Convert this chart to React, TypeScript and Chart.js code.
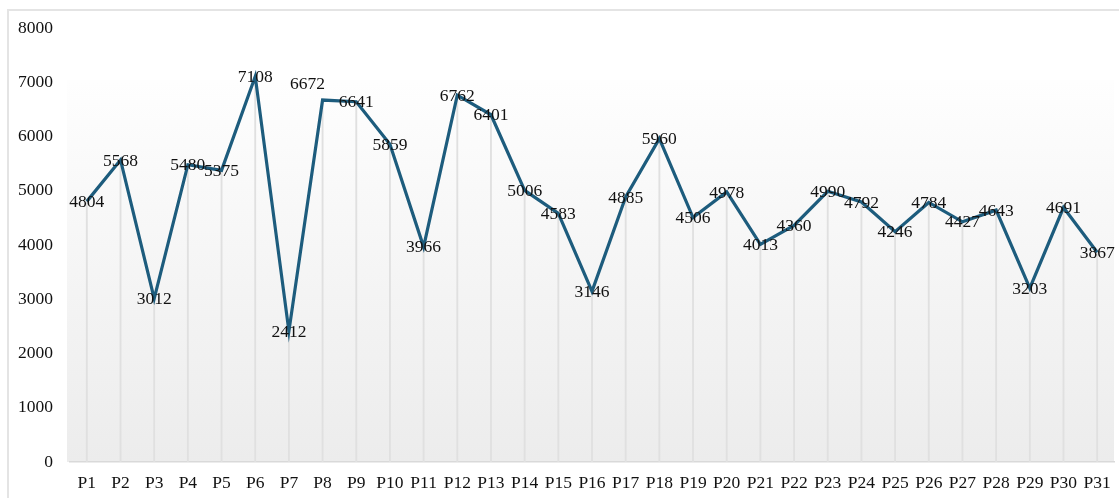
import React, { useEffect, useRef } from "react";
import { Chart, registerables } from "chart.js";

Chart.register(...registerables);

const categories = ["P1","P2","P3","P4","P5","P6","P7","P8","P9","P10","P11","P12","P13","P14","P15","P16","P17","P18","P19","P20","P21","P22","P23","P24","P25","P26","P27","P28","P29","P30","P31"];
const values = [4804,5568,3012,5480,5375,7108,2412,6672,6641,5859,3966,6762,6401,5006,4583,3146,4885,5960,4506,4978,4013,4360,4990,4792,4246,4784,4427,4643,3203,4691,3867];
const yTicks = [0,1000,2000,3000,4000,5000,6000,7000,8000];

const FONT = "'Liberation Serif', 'Times New Roman', serif";

const bgPlugin = {
  id: "plotBg",
  beforeDraw(chart: any) {
    const { ctx, chartArea } = chart;
    if (!chartArea) return;
    const top = chartArea.top + 52;
    const g = ctx.createLinearGradient(0, top, 0, chartArea.bottom);
    g.addColorStop(0, "#fefefe");
    g.addColorStop(1, "#ececec");
    ctx.save();
    ctx.fillStyle = g;
    ctx.fillRect(chartArea.left - 3, top, chartArea.right - chartArea.left + 3, chartArea.bottom - top);
    ctx.restore();
  },
};

const labelPlugin = {
  id: "valueLabels",
  afterDatasetsDraw(chart: any) {
    const { ctx } = chart;
    const meta = chart.getDatasetMeta(1);
    ctx.save();
    ctx.font = `17.5px ${FONT}`;
    ctx.fillStyle = "#111111";
    ctx.textAlign = "center";
    ctx.textBaseline = "middle";
    meta.data.forEach((pt: any, i: number) => {
      let dx = 0;
      let dy = 1;
      if (i === 7) { dx = -15; dy = -16; }
      ctx.fillText(String(values[i]), pt.x + dx, pt.y + dy);
    });
    ctx.restore();
  },
};

export default function App() {
  const ref = useRef<HTMLCanvasElement>(null);
  useEffect(() => {
    if (!ref.current) return;
    const chart = new Chart(ref.current, {
      type: "bar",
      data: {
        labels: categories,
        datasets: [
          {
            type: "bar",
            data: values,
            backgroundColor: "#e0e0e0",
            barThickness: 1.2,
            order: 2,
          } as any,
          {
            type: "line",
            data: values,
            borderColor: "#1d5c7d",
            borderWidth: 3.2,
            pointRadius: 0,
            tension: 0,
            fill: false,
            order: 1,
          } as any,
        ],
      },
      options: {
        animation: false,
        responsive: true,
        maintainAspectRatio: false,
        layout: { padding: { top: 17, right: 5, left: 0, bottom: 0 } },
        plugins: { legend: { display: false }, tooltip: { enabled: false } },
        scales: {
          x: {
            offset: true,
            grid: { display: false, drawTicks: false },
            border: { display: true, color: "#d9d9d9", width: 1.5 },
            ticks: { color: "#111111", font: { family: FONT, size: 17.5 }, padding: 11, maxRotation: 0, autoSkip: false },
            afterFit: (s: any) => { s.height = 36; s.paddingLeft = 0; s.paddingRight = 0; },
          },
          y: {
            min: 0,
            max: 8000,
            afterBuildTicks: (s: any) => { s.ticks = yTicks.map((v) => ({ value: v })); },
            grid: { display: false, drawTicks: false },
            border: { display: false },
            ticks: { color: "#111111", font: { family: FONT, size: 17.5 }, padding: 17, callback: (v: any) => String(v) },
            afterFit: (s: any) => { s.width = 61; s.paddingTop = 0; s.paddingBottom = 0; },
          },
        },
      },
      plugins: [bgPlugin, labelPlugin],
    });
    return () => chart.destroy();
  }, []);
  return (
    <div style={{ position: "fixed", left: 7, top: 9, width: 1112, height: 489, boxSizing: "border-box", borderTop: "2px solid #e4e4e4", borderLeft: "2px solid #e4e4e4", overflow: "hidden" }}>
      <div style={{ position: "relative", width: 1110, height: 487 }}>
        <canvas ref={ref} />
      </div>
    </div>
  );
}
